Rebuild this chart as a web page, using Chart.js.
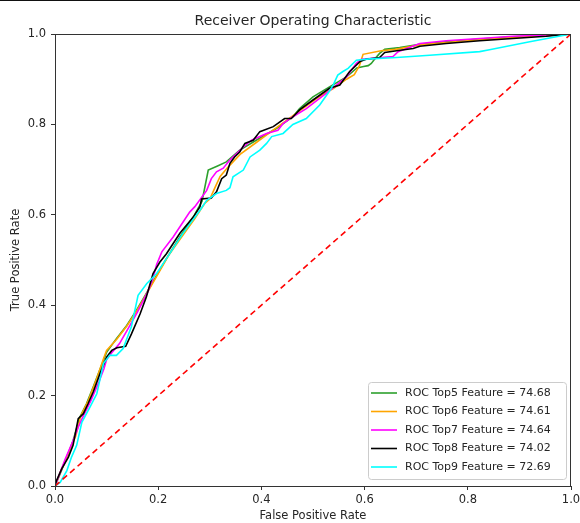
<!DOCTYPE html>
<html>
<head>
<meta charset="utf-8">
<script src="https://cdn.jsdelivr.net/npm/chart.js@4.4.0/dist/chart.umd.min.js"></script>
<style>
  html, body { margin: 0; padding: 0; background: #fff; }
  #wrap { position: relative; width: 580px; height: 523px; }
</style>
</head>
<body>
<div id="wrap"><canvas id="chart"></canvas></div>
<script>
// ROC points (false positive rate / true positive rate)
const top5Fpr = [0, 0.01, 0.023, 0.035, 0.048, 0.061, 0.074, 0.094, 0.1, 0.119, 0.139, 0.158, 0.177, 0.197, 0.21, 0.242, 0.268, 0.285, 0.297, 0.315, 0.332, 0.358, 0.39, 0.429, 0.461, 0.474, 0.5, 0.532, 0.565, 0.585, 0.598, 0.607, 0.613, 0.62, 0.629, 0.639, 0.668, 0.707, 0.758, 0.823, 0.887, 0.952, 1];
const top5Tpr = [0, 0.027, 0.064, 0.1, 0.152, 0.182, 0.219, 0.278, 0.296, 0.326, 0.355, 0.389, 0.426, 0.466, 0.492, 0.551, 0.595, 0.63, 0.699, 0.708, 0.717, 0.743, 0.765, 0.791, 0.817, 0.835, 0.861, 0.883, 0.905, 0.925, 0.928, 0.93, 0.935, 0.945, 0.957, 0.966, 0.97, 0.977, 0.983, 0.989, 0.994, 0.997, 1];

const top6Fpr = [0, 0.01, 0.025, 0.04, 0.05, 0.065, 0.08, 0.095, 0.1, 0.12, 0.14, 0.16, 0.18, 0.2, 0.22, 0.245, 0.27, 0.29, 0.3, 0.31, 0.32, 0.335, 0.36, 0.39, 0.42, 0.45, 0.48, 0.51, 0.54, 0.565, 0.58, 0.59, 0.597, 0.632, 0.66, 0.707, 0.8, 0.9, 1];
const top6Tpr = [0, 0.03, 0.07, 0.11, 0.155, 0.19, 0.235, 0.285, 0.3, 0.325, 0.355, 0.39, 0.43, 0.47, 0.51, 0.55, 0.59, 0.625, 0.635, 0.66, 0.685, 0.705, 0.735, 0.76, 0.785, 0.81, 0.835, 0.86, 0.88, 0.9, 0.91, 0.93, 0.955, 0.963, 0.966, 0.976, 0.985, 0.993, 1];

const top7Fpr = [0, 0.01, 0.02, 0.035, 0.045, 0.055, 0.07, 0.085, 0.095, 0.1, 0.11, 0.125, 0.14, 0.16, 0.18, 0.19, 0.197, 0.207, 0.229, 0.261, 0.271, 0.294, 0.303, 0.313, 0.326, 0.339, 0.365, 0.381, 0.41, 0.432, 0.442, 0.461, 0.487, 0.526, 0.565, 0.584, 0.594, 0.616, 0.655, 0.665, 0.707, 0.758, 0.823, 0.887, 0.952, 1];
const top7Tpr = [0, 0.03, 0.06, 0.1, 0.13, 0.155, 0.19, 0.23, 0.26, 0.28, 0.295, 0.315, 0.345, 0.385, 0.43, 0.46, 0.49, 0.518, 0.551, 0.606, 0.618, 0.654, 0.68, 0.695, 0.703, 0.721, 0.75, 0.765, 0.78, 0.787, 0.802, 0.817, 0.835, 0.869, 0.905, 0.935, 0.944, 0.946, 0.95, 0.961, 0.979, 0.985, 0.99, 0.995, 0.998, 1];

const top8Fpr = [0, 0.003, 0.013, 0.026, 0.035, 0.045, 0.055, 0.064, 0.074, 0.087, 0.1, 0.11, 0.12, 0.137, 0.148, 0.165, 0.177, 0.19, 0.203, 0.216, 0.242, 0.268, 0.281, 0.284, 0.303, 0.313, 0.323, 0.332, 0.339, 0.348, 0.358, 0.368, 0.384, 0.397, 0.423, 0.445, 0.458, 0.474, 0.5, 0.532, 0.552, 0.571, 0.591, 0.603, 0.629, 0.639, 0.662, 0.694, 0.707, 0.758, 0.823, 0.887, 0.952, 1];
const top8Tpr = [0, 0.012, 0.038, 0.064, 0.09, 0.149, 0.16, 0.182, 0.208, 0.248, 0.285, 0.3, 0.306, 0.309, 0.336, 0.381, 0.418, 0.47, 0.495, 0.514, 0.559, 0.595, 0.618, 0.635, 0.637, 0.651, 0.68, 0.688, 0.714, 0.728, 0.739, 0.758, 0.765, 0.784, 0.795, 0.813, 0.813, 0.832, 0.854, 0.88, 0.887, 0.917, 0.939, 0.944, 0.948, 0.959, 0.963, 0.968, 0.973, 0.979, 0.985, 0.99, 0.995, 1];

const top9Fpr = [0, 0.01, 0.023, 0.032, 0.042, 0.052, 0.068, 0.081, 0.094, 0.106, 0.119, 0.132, 0.148, 0.161, 0.178, 0.197, 0.216, 0.248, 0.281, 0.294, 0.313, 0.332, 0.339, 0.345, 0.365, 0.378, 0.397, 0.41, 0.42, 0.442, 0.461, 0.487, 0.513, 0.532, 0.539, 0.548, 0.558, 0.568, 0.584, 0.61, 0.662, 0.726, 0.823, 0.842, 0.92, 1];
const top9Tpr = [0, 0.008, 0.034, 0.064, 0.09, 0.141, 0.175, 0.204, 0.271, 0.289, 0.289, 0.304, 0.352, 0.422, 0.448, 0.47, 0.503, 0.559, 0.61, 0.632, 0.647, 0.654, 0.66, 0.684, 0.699, 0.728, 0.743, 0.758, 0.773, 0.78, 0.8, 0.813, 0.843, 0.874, 0.887, 0.909, 0.917, 0.924, 0.942, 0.945, 0.948, 0.953, 0.961, 0.965, 0.983, 1];

const chanceX = [0, 1];
const chanceY = [0, 1];

const seriesLabels = ['ROC Top5 Feature = 74.68', 'ROC Top6 Feature = 74.61', 'ROC Top7 Feature = 74.64', 'ROC Top8 Feature = 74.02', 'ROC Top9 Feature = 72.69'];
const tickLabels = ['0.0', '0.2', '0.4', '0.6', '0.8', '1.0'];

const FONT = '"DejaVu Sans", sans-serif';

function pts(xs, ys) {
  return xs.map((x, i) => ({ x: x, y: ys[i] }));
}

function curve(label, xs, ys, color, order) {
  return {
    label: label,
    data: pts(xs, ys),
    borderColor: color,
    backgroundColor: color,
    borderWidth: 1.6,
    pointRadius: 0,
    tension: 0,
    order: order
  };
}

// matplotlib-like frame, legend box and the dark strip at the top edge
const framePlugin = {
  id: 'frame',
  afterDraw(chart) {
    const { ctx, chartArea: a } = chart;
    ctx.save();
    ctx.fillStyle = '#111';
    ctx.fillRect(0, 0, chart.width, 1);

    ctx.strokeStyle = '#333';
    ctx.lineWidth = 1;
    ctx.strokeRect(Math.round(a.left) + 0.5, Math.round(a.top) + 0.5, Math.round(a.right - a.left) - 1, Math.round(a.bottom - a.top));

    const items = chart.data.datasets.filter(d => d.label);
    const w = 198, rowH = 18.5, h = 97;
    const x0 = a.right - 5 - w, y0 = a.bottom - 7 - h;
    ctx.beginPath();
    ctx.roundRect(x0 + 0.5, y0 + 0.5, w, h, 3);
    ctx.fillStyle = 'rgba(255,255,255,0.8)';
    ctx.fill();
    ctx.strokeStyle = '#cccccc';
    ctx.stroke();

    ctx.font = '11px ' + FONT;
    ctx.textBaseline = 'middle';
    ctx.textAlign = 'left';
    items.forEach((d, i) => {
      const y = y0 + 11 + i * rowH;
      ctx.beginPath();
      ctx.moveTo(x0 + 3, y);
      ctx.lineTo(x0 + 29, y);
      ctx.strokeStyle = d.borderColor;
      ctx.lineWidth = 1.6;
      ctx.stroke();
      ctx.fillStyle = '#262626';
      ctx.fillText(d.label, x0 + 37, y);
    });
    ctx.restore();
  }
};

const axisCommon = {
  type: 'linear',
  min: 0,
  max: 1,
  border: { display: false },
  grid: { display: true, drawOnChartArea: false, drawTicks: true, tickLength: 4, color: '#333' },
  ticks: {
    stepSize: 0.2,
    color: '#262626',
    font: { family: FONT, size: 11.5 },
    callback: (v) => tickLabels[Math.round(v * 5)]
  }
};

new Chart(document.getElementById('chart'), {
  type: 'line',
  data: {
    datasets: [
      curve(seriesLabels[0], top5Fpr, top5Tpr, '#2ca02c', 6),
      curve(seriesLabels[1], top6Fpr, top6Tpr, '#ffa500', 5),
      curve(seriesLabels[2], top7Fpr, top7Tpr, '#ff00ff', 4),
      curve(seriesLabels[3], top8Fpr, top8Tpr, '#000000', 3),
      curve(seriesLabels[4], top9Fpr, top9Tpr, '#00ffff', 2),
      {
        label: '',
        data: pts(chanceX, chanceY),
        borderColor: '#ff0000',
        borderWidth: 1.6,
        borderDash: [6, 4],
        pointRadius: 0,
        order: 1
      }
    ]
  },
  options: {
    responsive: true,
    maintainAspectRatio: false,
    animation: false,
    layout: { padding: { right: 9, left: 0, top: 0, bottom: 0 } },
    plugins: {
      legend: { display: false },
      tooltip: { enabled: false },
      title: {
        display: true,
        fullSize: false,
        text: 'Receiver Operating Characteristic',
        color: '#262626',
        font: { family: FONT, size: 14, weight: 'normal' },
        padding: { top: 12.5, bottom: 4.7 }
      }
    },
    scales: {
      x: Object.assign({}, axisCommon, {
        ticks: Object.assign({}, axisCommon.ticks, { padding: 3, maxRotation: 0 }),
        title: { display: true, text: 'False Positive Rate', color: '#262626', font: { family: FONT, size: 11.5 }, padding: { top: 0, bottom: 0 } },
        afterFit: (s) => { s.height = 37; s.paddingLeft = 0; s.paddingRight = 0; }
      }),
      y: Object.assign({}, axisCommon, {
        ticks: Object.assign({}, axisCommon.ticks, { padding: 5 }),
        title: { display: true, text: 'True Positive Rate', color: '#262626', font: { family: FONT, size: 11.5 }, padding: { top: 9, bottom: 0 } },
        afterFit: (s) => { s.width = 55; s.paddingTop = 0; s.paddingBottom = 0; }
      })
    }
  },
  plugins: [framePlugin]
});
</script>
</body>
</html>
